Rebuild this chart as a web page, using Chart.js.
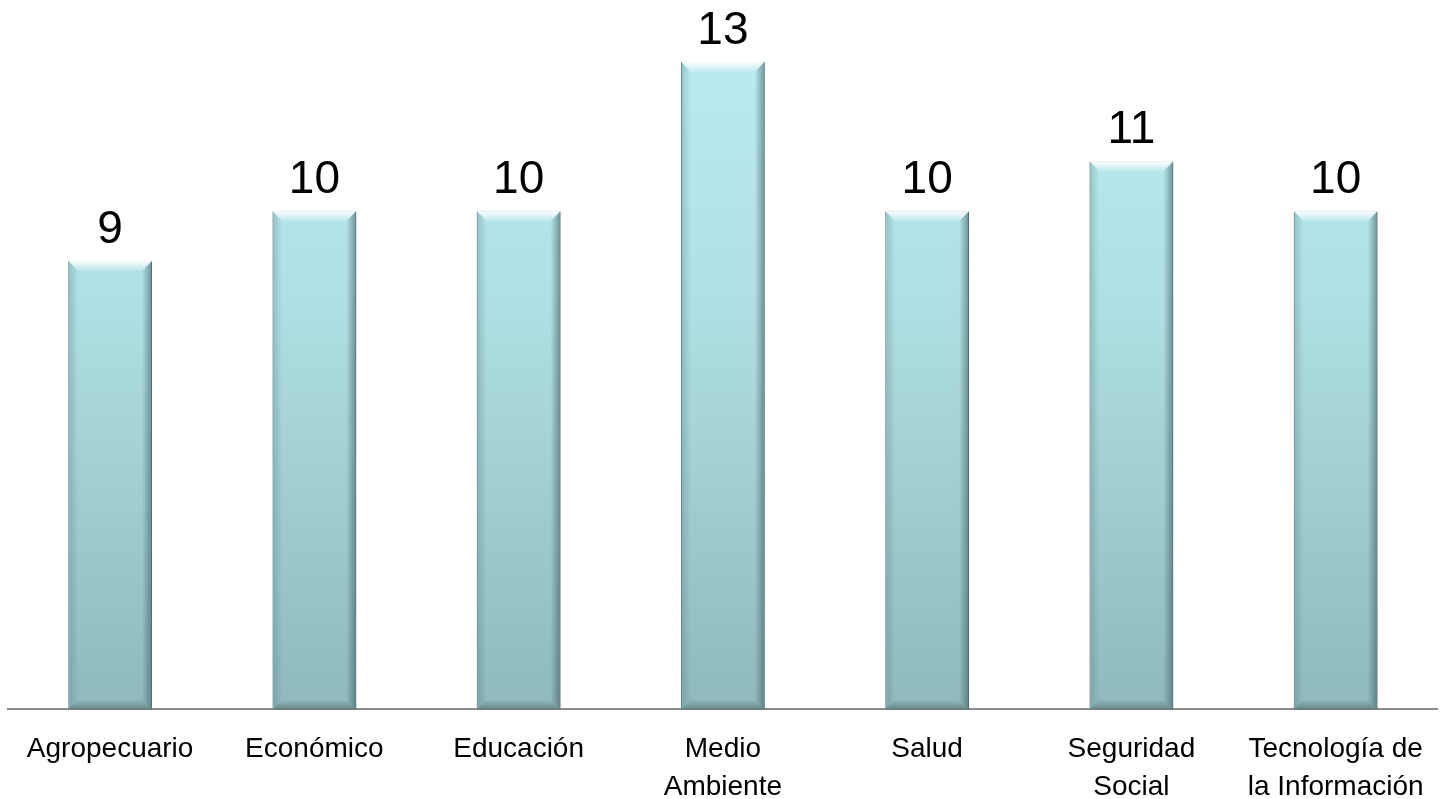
<!DOCTYPE html>
<html>
<head>
<meta charset="utf-8">
<script src="https://cdn.jsdelivr.net/npm/chart.js@4/dist/chart.umd.min.js"></script>
<style>
  html, body { margin: 0; padding: 0; background: #fff; }
  #wrap { width: 1445px; height: 799px; }
</style>
</head>
<body>
<div id="wrap"><canvas id="chart"></canvas></div>
<script>
const categories = [
  "Agropecuario",
  "Económico",
  "Educación",
  ["Medio", "Ambiente"],
  "Salud",
  ["Seguridad", "Social"],
  ["Tecnología de", "la Información"],
];
const counts = [9, 10, 10, 13, 10, 11, 10];

// value labels above each bar
const valueLabels = {
  id: "valueLabels",
  afterDatasetsDraw(chart) {
    const ctx = chart.ctx;
    const meta = chart.getDatasetMeta(0);
    ctx.save();
    ctx.font = "46px 'Liberation Sans', Arial, sans-serif";
    ctx.fillStyle = "#000";
    ctx.textAlign = "center";
    ctx.textBaseline = "alphabetic";
    meta.data.forEach((bar, i) => {
      ctx.fillText(String(counts[i]), bar.x, bar.y - 18);
    });
    ctx.restore();
  },
};

// soft bevel on each bar
const bevel = {
  id: "bevel",
  afterDatasetsDraw(chart) {
    const ctx = chart.ctx;
    const meta = chart.getDatasetMeta(0);
    ctx.save();
    meta.data.forEach((bar) => {
      const left = bar.x - bar.width / 2;
      const right = bar.x + bar.width / 2;
      const top = bar.y;
      const bottom = bar.base;
      const e = 10;
      // top highlight
      let g = ctx.createLinearGradient(0, top, 0, top + e);
      g.addColorStop(0, "rgba(255,255,255,0.95)");
      g.addColorStop(1, "rgba(255,255,255,0.1)");
      ctx.fillStyle = g;
      ctx.beginPath();
      ctx.moveTo(left, top);
      ctx.lineTo(right, top);
      ctx.lineTo(right - e, top + e);
      ctx.lineTo(left + e, top + e);
      ctx.closePath();
      ctx.fill();
      // left edge
      g = ctx.createLinearGradient(left, 0, left + e, 0);
      g.addColorStop(0, "rgba(70,110,115,0.3)");
      g.addColorStop(1, "rgba(70,110,115,0)");
      ctx.fillStyle = g;
      ctx.beginPath();
      ctx.moveTo(left, top);
      ctx.lineTo(left + e, top + e);
      ctx.lineTo(left + e, bottom - e);
      ctx.lineTo(left, bottom);
      ctx.closePath();
      ctx.fill();
      // right edge
      g = ctx.createLinearGradient(right, 0, right - e, 0);
      g.addColorStop(0, "rgba(50,80,85,0.55)");
      g.addColorStop(1, "rgba(50,80,85,0)");
      ctx.fillStyle = g;
      ctx.beginPath();
      ctx.moveTo(right, top);
      ctx.lineTo(right - e, top + e);
      ctx.lineTo(right - e, bottom - e);
      ctx.lineTo(right, bottom);
      ctx.closePath();
      ctx.fill();
      // bottom edge
      g = ctx.createLinearGradient(0, bottom, 0, bottom - e);
      g.addColorStop(0, "rgba(50,80,85,0.45)");
      g.addColorStop(1, "rgba(50,80,85,0)");
      ctx.fillStyle = g;
      ctx.beginPath();
      ctx.moveTo(left, bottom);
      ctx.lineTo(right, bottom);
      ctx.lineTo(right - e, bottom - e);
      ctx.lineTo(left + e, bottom - e);
      ctx.closePath();
      ctx.fill();
    });
    ctx.restore();
  },
};

new Chart(document.getElementById("chart"), {
  type: "bar",
  data: {
    labels: categories,
    datasets: [
      {
        data: counts,
        backgroundColor: (c) => {
          const area = c.chart.chartArea;
          if (!area) return "#a8d8dc";
          const g = c.chart.ctx.createLinearGradient(0, area.top, 0, area.bottom);
          g.addColorStop(0, "#bcedf2");
          g.addColorStop(0.4, "#b0e0e5");
          g.addColorStop(1, "#8fb9bc");
          return g;
        },
        borderColor: "#6f9497",
        borderWidth: 1,
        borderSkipped: false,
        barPercentage: 0.41,
        categoryPercentage: 1,
      },
    ],
  },
  options: {
    responsive: true,
    maintainAspectRatio: false,
    animation: false,
    layout: { padding: { top: 12, left: 8, right: 6, bottom: -28 } },
    plugins: {
      legend: { display: false },
      tooltip: { enabled: false },
    },
    scales: {
      x: {
        grid: { display: false, drawTicks: false },
        border: { display: true, color: "#8c8c8c", width: 2 },
        ticks: {
          color: "#000",
          padding: 21,
          maxRotation: 0,
          autoSkip: false,
          font: { family: "'Liberation Sans', Arial, sans-serif", size: 28, lineHeight: 1.35 },
        },
      },
      y: {
        display: false,
        min: 0,
        max: 14,
      },
    },
  },
  plugins: [bevel, valueLabels],
});
</script>
</body>
</html>
